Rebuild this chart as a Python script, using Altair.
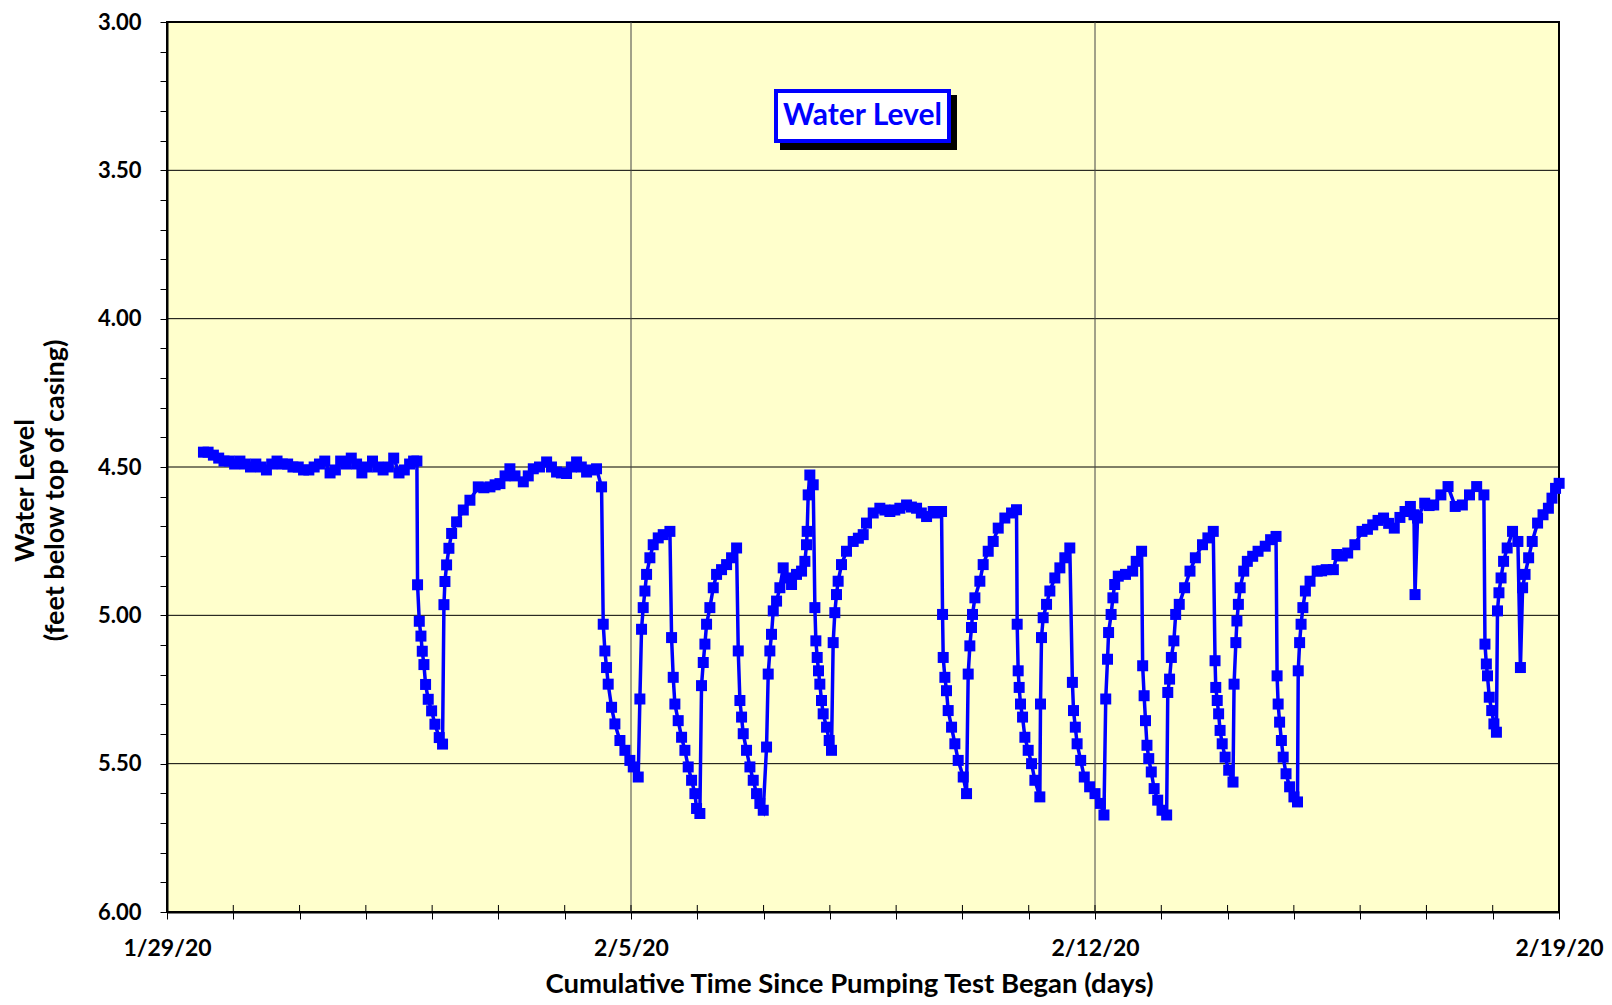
import altair as alt
import pandas as pd

# ---- data (days since 1/29/20 00:00, water level in ft below TOC)
days = [
    0.55, 0.62, 0.70, 0.78, 0.86, 0.94, 1.02, 1.10, 1.18, 1.26, 1.34, 1.42, 1.50, 1.58,
    1.66, 1.74, 1.82, 1.90, 1.98, 2.06, 2.14, 2.22, 2.30, 2.38, 2.46, 2.54, 2.62, 2.70,
    2.78, 2.86, 2.94, 3.02, 3.10, 3.18, 3.26, 3.34, 3.42, 3.50, 3.58, 3.66, 3.72, 3.77,
    3.780, 3.806, 3.831, 3.851, 3.876, 3.901, 3.941, 3.992, 4.042, 4.107, 4.157,
    4.178, 4.193, 4.218, 4.253, 4.294, 4.369, 4.470, 4.570, 4.696, 4.78, 4.872, 4.95,
    5.023, 5.10, 5.173, 5.25, 5.375, 5.45, 5.526, 5.62, 5.727, 5.80, 5.877, 5.95, 6.028,
    6.10, 6.179, 6.25, 6.330, 6.40, 6.480, 6.556,
    6.581, 6.606, 6.631, 6.656, 6.707, 6.757, 6.833, 6.908, 6.983, 7.034, 7.109,
    7.134, 7.159, 7.184, 7.210, 7.235, 7.285, 7.335, 7.411, 7.486, 7.587,
    7.612, 7.637, 7.662, 7.712, 7.763, 7.813, 7.863, 7.914, 7.964, 7.989, 8.039,
    8.064, 8.090, 8.115, 8.140, 8.190, 8.241, 8.291, 8.366, 8.442, 8.517, 8.593,
    8.618, 8.643, 8.668, 8.693, 8.743, 8.794, 8.844, 8.894, 8.944, 8.995,
    9.045, 9.070, 9.095, 9.120, 9.146, 9.196, 9.246, 9.296, 9.347, 9.422, 9.497, 9.573,
    9.623, 9.648, 9.658, 9.673, 9.698, 9.749,
    9.774, 9.789, 9.809, 9.829, 9.849, 9.874, 9.899, 9.950, 9.990, 10.025,
    10.050, 10.075, 10.100, 10.125, 10.176, 10.251, 10.352, 10.43, 10.503, 10.553, 10.654,
    10.754, 10.83, 10.905, 10.98, 11.056, 11.157, 11.23, 11.308, 11.38, 11.459, 11.559,
    11.62, 11.685,
    11.700, 11.710, 11.735, 11.760, 11.785, 11.836, 11.886, 11.936, 12.012, 12.062,
    12.087, 12.112, 12.137, 12.152, 12.188, 12.263, 12.313, 12.389, 12.464, 12.540,
    12.640, 12.741, 12.816,
    12.826, 12.841, 12.856, 12.876, 12.907, 12.942, 12.992, 13.043, 13.093, 13.168,
    13.178, 13.193, 13.218, 13.269, 13.319, 13.394, 13.470, 13.545, 13.620,
    13.659, 13.676, 13.703, 13.730, 13.784, 13.838, 13.919, 14.000, 14.081, 14.135,
    14.162, 14.189, 14.205, 14.243, 14.270, 14.297, 14.351, 14.460, 14.568, 14.622, 14.703,
    14.719, 14.741, 14.762, 14.784, 14.811, 14.849, 14.892, 14.946, 15.011, 15.081,
    15.098, 15.125, 15.152, 15.190, 15.217, 15.271, 15.352, 15.433, 15.514, 15.622,
    15.703, 15.784,
    15.811, 15.822, 15.844, 15.865, 15.887, 15.919, 15.963, 16.017, 16.082,
    16.098, 16.125, 16.141, 16.163, 16.190, 16.244, 16.298, 16.379, 16.460, 16.568,
    16.649, 16.731,
    16.747, 16.763, 16.785, 16.812, 16.839, 16.882, 16.936, 17.001, 17.055,
    17.066, 17.087, 17.109, 17.136, 17.174, 17.244, 17.352, 17.42, 17.488, 17.596,
    17.650, 17.73, 17.812, 17.920, 18.028, 18.11, 18.190, 18.27, 18.353, 18.43, 18.515,
    18.60, 18.677, 18.758, 18.812, 18.828, 18.866, 18.974, 19.04, 19.110, 19.218, 19.326,
    19.434, 19.542, 19.650, 19.758, 19.867,
    19.883, 19.904, 19.921, 19.948, 19.985, 20.018, 20.056,
    20.072, 20.094, 20.126, 20.164, 20.218, 20.299, 20.380,
    20.418, 20.451, 20.488, 20.542, 20.596, 20.677, 20.759, 20.840, 20.894, 20.948, 21.002,
]
levels = [
    4.45, 4.45, 4.46, 4.47, 4.48, 4.48, 4.49, 4.48, 4.49, 4.50, 4.49, 4.50, 4.51, 4.49,
    4.48, 4.49, 4.49, 4.50, 4.50, 4.51, 4.51, 4.50, 4.49, 4.48, 4.52, 4.51, 4.48, 4.49,
    4.47, 4.49, 4.52, 4.50, 4.48, 4.50, 4.51, 4.50, 4.47, 4.52, 4.51, 4.49, 4.48, 4.48,
    4.897, 5.020, 5.070, 5.121, 5.166, 5.233, 5.283, 5.322, 5.367, 5.412, 5.434,
    4.964, 4.886, 4.830, 4.774, 4.724, 4.685, 4.645, 4.612, 4.567, 4.57, 4.567, 4.56,
    4.556, 4.53, 4.506, 4.53, 4.550, 4.53, 4.506, 4.50, 4.483, 4.50, 4.517, 4.52, 4.522,
    4.50, 4.483, 4.50, 4.517, 4.51, 4.506, 4.567,
    5.030, 5.120, 5.176, 5.232, 5.310, 5.366, 5.422, 5.455, 5.489, 5.511, 5.545,
    5.282, 5.047, 4.974, 4.918, 4.862, 4.806, 4.762, 4.739, 4.728, 4.717,
    5.075, 5.209, 5.299, 5.355, 5.411, 5.455, 5.511, 5.556, 5.601, 5.651, 5.668,
    5.237, 5.159, 5.097, 5.030, 4.974, 4.907, 4.862, 4.846, 4.829, 4.806, 4.773,
    5.120, 5.287, 5.343, 5.399, 5.455, 5.511, 5.556, 5.601, 5.634, 5.657,
    5.444, 5.198, 5.120, 5.064, 4.985, 4.952, 4.907, 4.840, 4.874, 4.896, 4.862, 4.851,
    4.818, 4.762, 4.717, 4.594, 4.527, 4.560,
    4.974, 5.086, 5.142, 5.187, 5.232, 5.287, 5.332, 5.377, 5.422, 5.455,
    5.092, 4.991, 4.930, 4.885, 4.829, 4.784, 4.751, 4.74, 4.728, 4.689, 4.655,
    4.639, 4.645, 4.650, 4.645, 4.639, 4.628, 4.635, 4.639, 4.655, 4.667, 4.650,
    4.655, 4.650,
    4.997, 5.142, 5.209, 5.254, 5.321, 5.377, 5.433, 5.489, 5.545, 5.601,
    5.198, 5.103, 5.041, 4.997, 4.941, 4.885, 4.829, 4.784, 4.751, 4.706,
    4.672, 4.655, 4.644,
    5.030, 5.187, 5.243, 5.299, 5.343, 5.411, 5.455, 5.500, 5.556, 5.612,
    5.299, 5.075, 5.008, 4.963, 4.918, 4.874, 4.840, 4.806, 4.773,
    5.226, 5.321, 5.377, 5.433, 5.489, 5.545, 5.578, 5.601, 5.634, 5.673,
    5.282, 5.148, 5.058, 4.997, 4.941, 4.896, 4.868, 4.862, 4.851, 4.818, 4.784,
    5.170, 5.271, 5.355, 5.438, 5.483, 5.528, 5.584, 5.623, 5.657, 5.673,
    5.260, 5.215, 5.142, 5.086, 4.997, 4.963, 4.907, 4.851, 4.806, 4.762,
    4.739, 4.717,
    5.153, 5.243, 5.287, 5.332, 5.388, 5.433, 5.478, 5.522, 5.562,
    5.232, 5.092, 5.019, 4.963, 4.907, 4.851, 4.818, 4.801, 4.784, 4.767,
    4.745, 4.734,
    5.204, 5.299, 5.360, 5.422, 5.478, 5.534, 5.578, 5.612, 5.629,
    5.187, 5.092, 5.030, 4.974, 4.918, 4.885, 4.851, 4.85, 4.846, 4.846,
    4.795, 4.80, 4.790, 4.762, 4.717, 4.71, 4.695, 4.68, 4.672, 4.69, 4.706,
    4.67, 4.650, 4.633, 4.661, 4.930, 4.672, 4.622, 4.63, 4.628, 4.594, 4.566,
    4.633, 4.628, 4.594, 4.566, 4.594,
    5.097, 5.164, 5.204, 5.276, 5.321, 5.366, 5.394,
    4.985, 4.924, 4.874, 4.818, 4.773, 4.717, 4.751,
    5.176, 4.907, 4.862, 4.806, 4.751, 4.689, 4.661, 4.639, 4.605, 4.572, 4.555,
]

# ---- axis ticks, labels and gridlines
x_tick_days = list(range(0, 22))
x_label_days = [0, 7, 14, 21]
x_label_text = ["1/29/20", "2/5/20", "2/12/20", "2/19/20"]
x_grid_days = [7, 14]
x_inner_ticks = list(range(1, 21))
y_tick_values = [3.0, 3.1, 3.2, 3.3, 3.4, 3.5, 3.6, 3.7, 3.8, 3.9,
                 4.0, 4.1, 4.2, 4.3, 4.4, 4.5, 4.6, 4.7, 4.8, 4.9,
                 5.0, 5.1, 5.2, 5.3, 5.4, 5.5, 5.6, 5.7, 5.8, 5.9, 6.0]
y_grid_values = [3.5, 4.0, 4.5, 5.0, 5.5]
legend_text = ["Water Level"]

FONT = "Lato"
W, H = 1392, 890
BLUE = "#0000FF"

df = pd.DataFrame({"day": days, "level": levels})

xs = alt.Scale(domain=[0, 21], nice=False, zero=False)
ys = alt.Scale(domain=[3, 6], reverse=True, nice=False, zero=False)

x_expr = " : ".join(
    f"datum.value == {d} ? '{t}'" for d, t in zip(x_label_days, x_label_text)
) + " : ''"

x_axis = alt.Axis(
    values=x_tick_days, labelExpr=x_expr, grid=False,
    tickSize=7, tickWidth=1, tickColor="black",
    domainColor="black", domainWidth=2,
    labelFont=FONT, labelFontSize=23, labelFontWeight="bold", labelColor="black",
    labelPadding=18, labelFlush=False, labelOverlap=False,
    title="Cumulative Time Since Pumping Test Began (days)",
    titleFont=FONT, titleFontSize=27.5, titleFontWeight="bold", titleColor="black",
    titleX=682, titleY=80, titleBaseline="alphabetic", titleAlign="center",
)
y_axis = alt.Axis(
    values=y_tick_values,
    labelExpr="abs(datum.value*2 - round(datum.value*2)) < 0.001 ? format(datum.value, '.2f') : ''",
    grid=False, tickSize=7, tickWidth=1, tickColor="black",
    domainColor="black", domainWidth=2,
    labelFont=FONT, labelFontSize=22, labelFontWeight="bold", labelColor="black",
    labelPadding=19, labelOverlap=False, labelFlush=False,
    title=["Water Level", "(feet below top of casing)"],
    titleFont=FONT, titleFontSize=27, titleFontWeight="bold", titleColor="black",
    titleX=-155, titleY=468, titleAngle=270, titleBaseline="top", titleAlign="center",
    titleLineHeight=30,
)

X = alt.X("day:Q", scale=xs, axis=x_axis)
Y = alt.Y("level:Q", scale=ys, axis=y_axis)

ygrid = alt.Chart(pd.DataFrame({"level": y_grid_values})).mark_rule(
    color="black", strokeWidth=1
).encode(y=Y)

xgrid = alt.Chart(pd.DataFrame({"day": x_grid_days})).mark_rule(
    color="#444444", strokeWidth=1
).encode(x=X)

inner_ticks = alt.Chart(pd.DataFrame({"day": x_inner_ticks})).mark_rule(
    color="black", strokeWidth=1
).encode(x=X, y=alt.value(H), y2=alt.value(H - 7))

line = alt.Chart(df).mark_line(color=BLUE, strokeWidth=3.5).encode(x=X, y=Y)
points = alt.Chart(df).mark_point(
    shape="square", filled=True, size=121, color=BLUE, opacity=1
).encode(x=X, y=Y)

lab = pd.DataFrame({"t": legend_text})
shadow = alt.Chart(lab).mark_rect(color="black").encode(
    x=alt.value(613), x2=alt.value(790), y=alt.value(73), y2=alt.value(128)
)
box = alt.Chart(lab).mark_rect(fill="white", stroke=BLUE, strokeWidth=4).encode(
    x=alt.value(609), x2=alt.value(782), y=alt.value(69), y2=alt.value(119)
)
label = alt.Chart(lab).mark_text(
    color=BLUE, font=FONT, fontSize=30, fontWeight="bold", align="center", baseline="middle"
).encode(x=alt.value(695.5), y=alt.value(94), text="t:N")

chart = alt.layer(
    ygrid, xgrid, inner_ticks, line, points, shadow, box, label
).properties(
    width=W, height=H,
    padding={"left": 159, "top": 14, "right": 45, "bottom": 85},
    autosize=alt.AutoSizeParams(type="none"),
    background="white",
).configure_view(
    fill="#FFFFCC", stroke="black", strokeWidth=2
)

chart.save("out.html", embed_options={"renderer": "svg", "actions": False})
